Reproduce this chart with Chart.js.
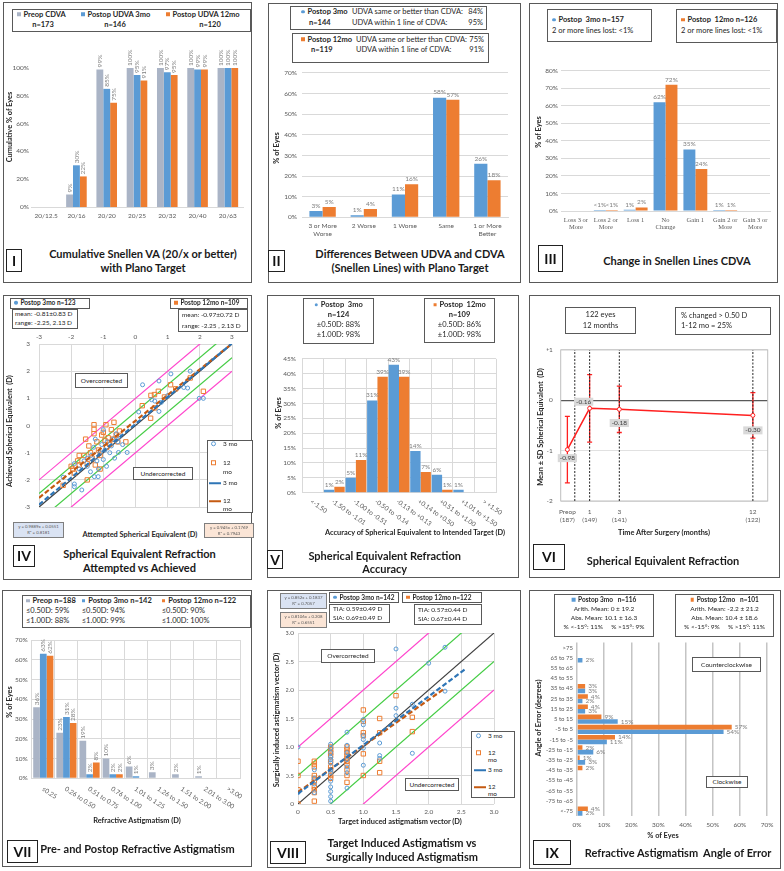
<!DOCTYPE html>
<html>
<head>
<meta charset="utf-8">
<script src="https://cdn.jsdelivr.net/npm/chart.js@4.4.1/dist/chart.umd.min.js"></script>
<style>
  html, body { margin: 0; padding: 0; background: #fff; }
  body { position: relative; width: 784px; height: 871px; overflow: hidden; font-family: Lato, "Open Sans", sans-serif; }
  canvas { position: absolute; }
  .t { position: absolute; white-space: nowrap; line-height: 1; font-size: 7.5px; color: #262626; }
  .bd { font-weight: bold; }
  .ttl { font-weight: bold; font-size: 11px; color: #1a1a1a; }
  .rom { font-weight: bold; font-size: 14px; color: #111; }
  .ax { font-weight: bold; font-size: 7.4px; color: #262626; }
  .sm { font-size: 6.5px; }
  .eq { font-size: 4.3px; color: #595959; }
</style>
</head>
<body>
<script>
// ---------- data ----------
// I  cumulative Snellen VA
const snellenCats = ['20/12.5', '20/16', '20/20', '20/25', '20/32', '20/40', '20/63'];
const snellenPreop = [0, 9, 99, 100, 100, 100, 100];
const snellen3mo = [0, 30, 85, 95, 97, 99, 100];
const snellen12mo = [0, 22, 75, 91, 95, 99, 100];

// II  UDVA vs CDVA
const diffCats = [['3 or More', 'Worse'], '2 Worse', '1 Worse', 'Same', ['1 or More', 'Better']];
const diff3mo = [3, 1, 11, 58, 26];
const diff12mo = [5, 4, 16, 57, 18];

// III  change in Snellen lines
const lineCats = [['Loss 3 or', 'More'], ['Loss 2 or', 'More'], 'Loss 1', ['No', 'Change'], 'Gain 1', ['Gain 2 or', 'More'], ['Gain 3 or', 'More']];
const lines3mo = [0, 0.6, 0.7, 62, 35, 0.6, 0];
const lines12mo = [0, 0.6, 2, 72, 24, 0.6, 0];
const lineText3mo = ['', '<1%', '1%', '62%', '35%', '1%', ''];
const lineText12mo = ['', '<1%', '2%', '72%', '24%', '1%', ''];

// IV  attempted vs achieved SE
const se3moPts = [[-2.25,-1.9],[-1.9,-2.15],[-1.9,-2.25],[-1.9,-1.4],[-1.75,-1.6],[-1.67,-2.37],[-1.6,-1.3],[-1.5,-1.5],[-1.5,-1.2],[-1.4,-1.7],[-1.38,-1.1],[-1.3,-0.8],[-1.28,-1.88],[-1.25,-0.5],[-1.2,-1.3],[-1.16,-1.88],[-1.15,-1.6],[-1.1,-1.0],[-1.05,-0.7],[-1.0,-1.25],[-1.0,-0.15],[-0.95,-0.9],[-0.9,-1.5],[-0.88,-0.6],[-0.8,-1.0],[-0.75,-0.75],[-0.7,-0.5],[-0.65,-1.2],[-0.6,-0.3],[-0.55,-0.6],[-0.53,-0.99],[-0.5,-0.4],[-0.4,-0.7],[-0.26,-0.99],[0.1,0.5],[0.22,1.5],[0.5,0.95],[0.6,0.9],[0.73,0.52],[0.73,1.64],[0.8,0.85],[1.0,1.1],[1.1,1.9],[1.5,1.4],[1.62,1.38],[1.7,2.0],[1.98,1.0],[2.11,1.0]];
const se12moPts = [[-2.25,-2.2],[-2.0,-1.5],[-1.95,-1.6],[-1.9,-1.75],[-1.8,-1.3],[-1.75,-1.45],[-1.75,-1.1],[-1.6,-1.1],[-1.55,-0.5],[-1.5,-1.4],[-1.5,-2.0],[-1.45,-0.75],[-1.4,-1.0],[-1.35,-1.2],[-1.29,0.03],[-1.29,-0.14],[-1.29,-0.3],[-1.25,-1.45],[-1.2,-0.6],[-1.15,-0.9],[-1.1,-1.1],[-1.1,-1.6],[-1.05,-0.35],[-1.0,-0.25],[-0.95,-0.55],[-0.92,0.03],[-0.9,-0.8],[-0.85,-0.45],[-0.8,-0.7],[-0.75,-0.15],[-0.7,-0.5],[-0.67,0.12],[-0.6,-0.35],[-0.55,-0.6],[-0.5,-0.2],[-0.3,-0.6],[0.21,0.73],[0.47,0.27],[0.48,1.11],[0.59,1.14],[0.6,0.65],[0.71,1.26],[0.9,1.05],[1.09,1.5],[1.25,1.35],[1.7,1.75],[2.11,1.26]];
const seTrend3mo = [0.9889, 0.0551];
const seTrend12mo = [0.945, 0.1769];

// V  SE accuracy
const accCats = ['<-1.50', '-1.50 to -1.01', '-1.00 to -0.51', '-0.50 to -0.14', '-0.13 to +0.13', '+0.14 to +0.50', '+0.51 to +1.00', '+1.01 to +1.50', '> +1.50'];
const acc3mo = [0, 1, 5, 31, 43, 14, 6, 1, 0];
const acc12mo = [0, 2, 11, 39, 39, 7, 1, 0, 0];

// VI  SE over time
const seMonths = [-0.5, 1, 3, 12];
const seMean = [-0.98, -0.16, -0.18, -0.30];
const seSD = [0.66, 0.67, 0.46, 0.45];
const seTickLabels = [['Preop', '(187)'], ['1', '(149)'], ['3', '(141)'], ['12', '(122)']];
const seDividers = [0, 1, 3, 12];

// VII  refractive astigmatism
const astCats = ['≤0.25', '0.26 to 0.50', '0.51 to 0.75', '0.76 to 1.00', '1.01 to 1.25', '1.26 to 1.50', '1.51 to 2.00', '2.01 to 3.00', '>3.00'];
const astPreop = [36, 23, 19, 10, 6, 3, 2, 1, 0];
const ast3mo = [63, 31, 2, 2, 1, 0, 0, 0, 0];
const ast12mo = [62, 28, 8, 2, 0, 0, 0, 0, 0];

// VIII  TIA vs SIA
const sia3moPts = [[0,1.0],[0,0.2],[0.25,0.6],[0.25,0.45],[0.25,0.35],[0.25,0.2],[0.5,1.05],[0.5,0.98],[0.5,0.9],[0.5,0.82],[0.5,0.78],[0.5,0.72],[0.5,0.6],[0.5,0.55],[0.5,0.4],[0.5,0.3],[0.5,0.22],[0.5,0.13],[0.5,0.05],[0.75,1.26],[0.75,1.03],[0.75,0.9],[0.75,0.78],[0.75,0.65],[0.75,0.55],[0.75,0.28],[1,1.48],[1,1.39],[1,1.2],[1,1.13],[1,0.98],[1,0.68],[1.25,1.07],[1.25,0.85],[1.25,0.8],[1.5,2.72],[1.5,1.68],[1.5,1.55],[1.75,1.75],[1.75,0.89],[2,2.47],[2.25,2.75],[2.25,1.98]];
const sia12moPts = [[0,0.75],[0,0.5],[0,0.25],[0,0],[0.25,0.75],[0.25,0.7],[0.25,0.65],[0.25,0.5],[0.25,0.45],[0.25,0.4],[0.25,0.3],[0.25,0.25],[0.25,0.2],[0.25,0.05],[0.5,1.0],[0.5,0.95],[0.5,0.9],[0.5,0.85],[0.5,0.75],[0.5,0.65],[0.5,0.6],[0.5,0.5],[0.5,0.45],[0.75,1.0],[0.75,0.95],[0.75,0.9],[0.75,0.85],[0.75,0.8],[0.75,0.75],[0.75,0.7],[0.75,0.6],[0.75,0.5],[0.75,0.38],[1,1.65],[1,1.45],[1,1.25],[1,1.2],[1,0.88],[1,0.5],[1.25,1.5],[1.25,1.25],[1.25,0.75],[1.25,0.55],[1.5,1.9],[1.75,1.52],[1.75,1.27]];
const siaTrend3mo = [0.852, 0.1837, 2.55];
const siaTrend12mo = [0.8106, 0.208, 2.25];

// IX  angle of error
const angCats = ['>75', '65 to 75', '55 to 65', '45 to 55', '35 to 45', '25 to 35', '15 to 25', '5 to 15', '-5 to 5', '-15 to -5', '-25 to -15', '-35 to -25', '-45 to -35', '-55 to -45', '-65 to -55', '-75 to -65', '<-75'];
const ang3mo = [0, 2, 0, 0, 3, 2, 3, 15, 54, 11, 6, 3, 0, 0, 0, 0, 2];
const ang12mo = [0, 0, 0, 0, 3, 4, 4, 9, 57, 14, 2, 1, 2, 0, 0, 0, 4];

// ---------- helpers ----------
const BLUE = '#5b9bd5', ORANGE = '#ed7d31', GRAY = '#aab4c6';
const GRID = '#d9d9d9', TICKC = '#595959';
const TICK = { family: 'Lato', size: 6.5 };

function bx(x1, y1, x2, y2, style) {
  const d = document.createElement('div');
  d.style.cssText = `position:absolute;left:${x1}px;top:${y1}px;width:${x2 - x1}px;height:${y2 - y1}px;box-sizing:border-box;border:1.2px solid #595959;background:#fff;` + (style || '');
  document.body.appendChild(d);
}
function tx(x, y, html, cls, align, rot) {
  const d = document.createElement('div');
  d.className = 't ' + (cls || '');
  d.innerHTML = html;
  d.style.left = x + 'px';
  d.style.top = y + 'px';
  const h = align === 'c' || rot ? '-50%' : align === 'r' ? '-100%' : '0';
  d.style.transform = `translate(${h},-50%)` + (rot ? ' rotate(-90deg)' : '');
  document.body.appendChild(d);
}
function mk(c, round) {
  return `<span style="display:inline-block;width:3.5px;height:3.5px;background:${c};${round ? 'border-radius:50%;' : ''}vertical-align:middle;margin:0 3px 1px 0"></span>`;
}
const openMk = (c, round) => `<span style="display:inline-block;width:3px;height:3px;border:1px solid ${c};${round ? 'border-radius:50%;' : ''}"></span>`;
const dashMk = c => `<span style="display:inline-block;width:12px;border-top:2px dashed ${c};vertical-align:middle"></span>`;

// canvas placed so that the chart area lands on [L,T,R,B]
function mount(area, yW, xH, topH, pad) {
  const [L, Tp, R, Bt] = area;
  const p = pad || { l: 6, t: 8, r: 14, b: 6 };
  const left = Math.round(L - yW - p.l), top = Math.round(Tp - (topH || 0) - p.t);
  const w = Math.round(R + p.r) - left, h = Math.round(Bt + xH + p.b) - top;
  const c = document.createElement('canvas');
  c.width = w; c.height = h;
  c.style.left = left + 'px'; c.style.top = top + 'px';
  document.body.appendChild(c);
  return { ctx: c.getContext('2d'), padding: { left: L - yW - left, top: Tp - (topH || 0) - top, right: left + w - R, bottom: top + h - Bt - xH } };
}
const fit = (prop, v) => s => { s[prop] = v; };
const xy = pts => pts.map(([x, y]) => ({ x, y }));
const seg = (m, b, x0, x1) => [{ x: x0, y: m * x0 + b }, { x: x1, y: m * x1 + b }];
function opts(pad, scales, plugins, extra) {
  return Object.assign({
    responsive: false, animation: false, devicePixelRatio: 1,
    layout: { padding: pad }, scales,
    plugins: Object.assign({ legend: { display: false }, tooltip: { enabled: false } }, plugins || {})
  }, extra || {});
}

// ---------- plugins ----------
const barLabels = {
  id: 'barLabels',
  afterDatasetsDraw(chart, args, o) {
    if (!o.mode) return;
    const ctx = chart.ctx;
    ctx.save();
    ctx.font = (o.size || 6.5) + 'px Lato';
    ctx.fillStyle = '#7f7f7f';
    chart.data.datasets.forEach((ds, i) => {
      chart.getDatasetMeta(i).data.forEach((el, j) => {
        const v = ds.data[j];
        const t = ds.valueText ? ds.valueText[j] : (v > 0 ? Math.round(v) + '%' : '');
        if (!t) return;
        if (o.mode === 'rot') {
          ctx.save();
          ctx.translate(el.x, el.y - 2);
          ctx.rotate(-Math.PI / 2);
          ctx.textAlign = 'left'; ctx.textBaseline = 'middle';
          ctx.fillText(t, 0, 0);
          ctx.restore();
        } else if (o.mode === 'right') {
          ctx.textAlign = 'left'; ctx.textBaseline = 'middle';
          ctx.fillText(t, el.x + 3, el.y);
        } else {
          ctx.textAlign = 'center'; ctx.textBaseline = 'bottom';
          ctx.fillText(t, el.x, el.y - 2);
        }
      });
    });
    ctx.restore();
  }
};
const slant = {
  id: 'slant',
  afterDraw(chart, args, o) {
    if (!o.angle) return;
    const sc = chart.scales.x, ctx = chart.ctx;
    ctx.save();
    ctx.font = '6.5px Lato';
    ctx.fillStyle = TICKC;
    sc.ticks.forEach((t, i) => {
      ctx.save();
      ctx.translate(sc.getPixelForTick(i) + o.dx, sc.top + o.dy);
      ctx.rotate(o.angle * Math.PI / 180);
      ctx.textAlign = 'left'; ctx.textBaseline = 'middle';
      ctx.fillText(sc.getLabelForValue(t.value), 0, 0);
      ctx.restore();
    });
    ctx.restore();
  }
};
const errBars = {
  id: 'errBars',
  beforeDatasetsDraw(chart, args, o) {
    if (!o.sd) return;
    const ctx = chart.ctx, ys = chart.scales.y, ds = chart.data.datasets[0];
    ctx.save();
    ctx.strokeStyle = '#ff2020'; ctx.lineWidth = 1.3;
    chart.getDatasetMeta(0).data.forEach((pt, i) => {
      const m = ds.data[i].y;
      const a = ys.getPixelForValue(m + o.sd[i]), b = ys.getPixelForValue(m - o.sd[i]);
      ctx.beginPath();
      ctx.moveTo(pt.x, a); ctx.lineTo(pt.x, b);
      ctx.moveTo(pt.x - 2.5, a); ctx.lineTo(pt.x + 2.5, a);
      ctx.moveTo(pt.x - 2.5, b); ctx.lineTo(pt.x + 2.5, b);
      ctx.stroke();
    });
    ctx.restore();
  }
};
const ptLabels = {
  id: 'ptLabels',
  afterDatasetsDraw(chart, args, o) {
    if (!o.offsets) return;
    const ctx = chart.ctx, ds = chart.data.datasets[0];
    ctx.save();
    ctx.font = '6.5px Lato';
    chart.getDatasetMeta(0).data.forEach((pt, i) => {
      const t = ds.data[i].y.toFixed(2);
      const w = ctx.measureText(t).width + 4, h = 8;
      const cx = pt.x + o.offsets[i][0], cy = pt.y + o.offsets[i][1];
      ctx.fillStyle = '#d9d9d9';
      ctx.fillRect(cx - w / 2, cy - h / 2, w, h);
      ctx.fillStyle = '#404040';
      ctx.textAlign = 'center'; ctx.textBaseline = 'middle';
      ctx.fillText(t, cx, cy);
    });
    ctx.restore();
  }
};
const frame = {
  id: 'frame',
  beforeDatasetsDraw(chart, args, o) {
    if (!o.color) return;
    const { left, top, width, height } = chart.chartArea;
    chart.ctx.save();
    chart.ctx.strokeStyle = o.color; chart.ctx.lineWidth = 1;
    chart.ctx.strokeRect(left, top, width, height);
    chart.ctx.restore();
  }
};
Chart.register(barLabels, slant, errBars, ptLabels, frame);

// ---------- panel frames ----------
[[3, 2, 252, 283], [268, 3, 521, 283], [529, 3, 778, 283],
 [3, 295, 252, 580], [267, 295, 519, 578], [529, 295, 780, 578],
 [2, 590, 252, 867], [267, 590, 521, 868], [529, 590, 781, 869]]
  .forEach(r => bx(r[0], r[1], r[2], r[3], 'background:transparent;border:1.5px solid #595959;'));

// ---------- I ----------
const cI = mount([31, 68, 243, 207], 24, 14, 0, { l: 6, t: 22, r: 14, b: 6 });
new Chart(cI.ctx, {
  type: 'bar',
  data: { labels: snellenCats, datasets: [
    { data: snellenPreop, backgroundColor: GRAY },
    { data: snellen3mo, backgroundColor: BLUE },
    { data: snellen12mo, backgroundColor: ORANGE }] },
  options: opts(cI.padding, {
    x: { grid: { display: false, drawTicks: false }, border: { color: GRID }, ticks: { font: TICK, color: TICKC, padding: 5, maxRotation: 0, autoSkip: false }, afterFit: fit('height', 14) },
    y: { min: 0, max: 100, grid: { display: false, drawTicks: false }, border: { display: false }, ticks: { stepSize: 20, font: TICK, color: TICKC, padding: 2, callback: v => v + '%' }, afterFit: fit('width', 24) }
  }, { barLabels: { mode: 'rot' } }, { datasets: { bar: { categoryPercentage: 0.68, barPercentage: 1 } } })
});

// ---------- II ----------
const cII = mount([302, 71.7, 508, 217.3], 22, 22);
new Chart(cII.ctx, {
  type: 'bar',
  data: { labels: diffCats, datasets: [
    { data: diff3mo, backgroundColor: BLUE },
    { data: diff12mo, backgroundColor: ORANGE }] },
  options: opts(cII.padding, {
    x: { grid: { display: false, drawTicks: false }, border: { color: GRID }, ticks: { font: TICK, color: TICKC, padding: 5, maxRotation: 0, autoSkip: false }, afterFit: fit('height', 22) },
    y: { min: 0, max: 70, grid: { color: GRID, drawTicks: false }, border: { display: false }, ticks: { stepSize: 10, font: TICK, color: TICKC, padding: 5, callback: v => v + '%' }, afterFit: fit('width', 22) }
  }, { barLabels: { mode: 'top' } }, { datasets: { bar: { categoryPercentage: 0.64, barPercentage: 1 } } })
});

// ---------- III ----------
const cIII = mount([561, 70.7, 770, 211], 22, 22);
new Chart(cIII.ctx, {
  type: 'bar',
  data: { labels: lineCats, datasets: [
    { data: lines3mo, valueText: lineText3mo, backgroundColor: BLUE },
    { data: lines12mo, valueText: lineText12mo, backgroundColor: ORANGE }] },
  options: opts(cIII.padding, {
    x: { grid: { display: false, drawTicks: false }, border: { color: GRID }, ticks: { font: { family: 'Liberation Serif', size: 6.5 }, color: TICKC, padding: 5, maxRotation: 0, autoSkip: false }, afterFit: fit('height', 22) },
    y: { min: 0, max: 80, grid: { color: GRID, drawTicks: false }, border: { display: false }, ticks: { stepSize: 10, font: TICK, color: TICKC, padding: 3, callback: v => v + '%' }, afterFit: fit('width', 22) }
  }, { barLabels: { mode: 'top' } }, { datasets: { bar: { categoryPercentage: 0.8, barPercentage: 1 } } })
});

// ---------- IV ----------
function refLines(lo, hi) {
  const d = [];
  [[0, '#404040'], [0.5, '#44cc44'], [-0.5, '#44cc44'], [1, '#ff44cc'], [-1, '#ff44cc']].forEach(([k, c]) => {
    d.push({ data: seg(1, k, lo, hi), showLine: true, borderColor: c, borderWidth: 1.2, pointRadius: 0 });
  });
  return d;
}
function scatterSets(p3, p12, t3, t12) {
  return [
    { data: seg(t3[0], t3[1], t3[2], t3[3]), showLine: true, borderColor: '#2e75b6', borderDash: [5, 2.5], borderWidth: 2.2, pointRadius: 0 },
    { data: seg(t12[0], t12[1], t12[2], t12[3]), showLine: true, borderColor: '#c55a11', borderDash: [5, 2.5], borderWidth: 2.2, pointRadius: 0 },
    { data: xy(p3), pointStyle: 'circle', pointRadius: 2, borderColor: BLUE, borderWidth: 1, backgroundColor: 'rgba(0,0,0,0)' },
    { data: xy(p12), pointStyle: 'rect', pointRadius: 3.1, borderColor: ORANGE, borderWidth: 1, backgroundColor: 'rgba(0,0,0,0)' }
  ];
}
const cIV = mount([39, 344, 232, 514], 14, 0, 11);
new Chart(cIV.ctx, {
  type: 'scatter',
  data: { datasets: scatterSets(se3moPts, se12moPts, [...seTrend3mo, -3, 3], [...seTrend12mo, -3, 3]).concat(refLines(-3, 3)) },
  options: opts(cIV.padding, {
    x: { type: 'linear', position: 'top', min: -3, max: 3, grid: { color: GRID, drawTicks: false }, border: { display: false }, ticks: { stepSize: 1, font: TICK, color: TICKC, padding: 3 }, afterFit: fit('height', 11) },
    y: { min: -3, max: 3, grid: { color: GRID, drawTicks: false }, border: { display: false }, ticks: { stepSize: 1, font: TICK, color: TICKC, padding: 9 }, afterFit: fit('width', 14) }
  })
});

// ---------- V ----------
const cV = mount([302, 356.7, 496, 492.7], 20, 40, 0, { l: 6, t: 8, r: 22, b: 6 });
new Chart(cV.ctx, {
  type: 'bar',
  data: { labels: accCats, datasets: [
    { data: acc3mo, backgroundColor: BLUE },
    { data: acc12mo, backgroundColor: ORANGE }] },
  options: opts(cV.padding, {
    x: { grid: { color: GRID, drawTicks: false }, border: { color: GRID }, ticks: { display: false, autoSkip: false }, afterFit: fit('height', 40) },
    y: { min: 0, max: 45, grid: { color: GRID, drawTicks: false }, border: { display: false }, ticks: { stepSize: 5, font: TICK, color: TICKC, padding: 6, callback: v => v + '%' }, afterFit: fit('width', 20) }
  }, { barLabels: { mode: 'top' }, slant: { angle: 35, dx: -2, dy: 8 } }, { datasets: { bar: { categoryPercentage: 0.96, barPercentage: 1 } } })
});

// ---------- VI ----------
const cVI = mount([560.7, 346, 767.7, 501], 14, 22);
new Chart(cVI.ctx, {
  type: 'scatter',
  data: { datasets: [
    { data: seMonths.map((m, i) => ({ x: m, y: seMean[i] })), showLine: true, borderColor: '#ff2020', borderWidth: 1.5, pointRadius: 2, pointBackgroundColor: '#fff', pointBorderColor: '#ff2020', pointBorderWidth: 1 }
  ].concat(seDividers.map(m => ({ data: [{ x: m, y: -2 }, { x: m, y: 1 }], showLine: true, borderColor: '#262626', borderDash: [2, 1.5], borderWidth: 1, pointRadius: 0 }))) },
  options: opts(cVI.padding, {
    x: { type: 'linear', min: -0.95, max: 13, grid: { display: false, drawTicks: false }, border: { display: false },
         afterBuildTicks: s => { s.ticks = seMonths.map(v => ({ value: v })); },
         ticks: { font: TICK, color: TICKC, padding: 7, maxRotation: 0, callback: (v, i) => seTickLabels[i] }, afterFit: fit('height', 22) },
    y: { min: -2, max: 1, border: { display: false },
         grid: { drawTicks: false, color: c => c.tick.value === 0 ? '#595959' : GRID, lineWidth: c => c.tick.value === 0 ? 1.3 : 0.8 },
         ticks: { stepSize: 1, font: TICK, color: TICKC, padding: 8, callback: v => v > 0 ? '+' + v : String(v) }, afterFit: fit('width', 14) }
  }, { errBars: { sd: seSD }, ptLabels: { offsets: [[0, 8.5], [-6, -6.6], [0, 13.7], [0, 15]] }, frame: { color: '#bfbfbf' } })
});

// ---------- VII ----------
const cVII = mount([31.7, 640, 240, 778.3], 20, 36, 0, { l: 6, t: 14, r: 16, b: 6 });
new Chart(cVII.ctx, {
  type: 'bar',
  data: { labels: astCats, datasets: [
    { data: astPreop, backgroundColor: GRAY },
    { data: ast3mo, backgroundColor: BLUE },
    { data: ast12mo, backgroundColor: ORANGE }] },
  options: opts(cVII.padding, {
    x: { grid: { color: GRID, drawTicks: false }, border: { color: GRID }, ticks: { display: false, autoSkip: false }, afterFit: fit('height', 36) },
    y: { min: 0, max: 70, grid: { color: GRID, drawTicks: false }, border: { display: false }, ticks: { stepSize: 10, font: TICK, color: TICKC, padding: 4, callback: v => v + '%' }, afterFit: fit('width', 20) }
  }, { barLabels: { mode: 'rot' }, slant: { angle: 33, dx: -1, dy: 10 } }, { datasets: { bar: { categoryPercentage: 0.87, barPercentage: 1 } } })
});

// ---------- VIII ----------
const cVIII = mount([298, 633, 494, 804], 12, 12);
new Chart(cVIII.ctx, {
  type: 'scatter',
  data: { datasets: scatterSets(sia3moPts, sia12moPts, [siaTrend3mo[0], siaTrend3mo[1], 0, siaTrend3mo[2]], [siaTrend12mo[0], siaTrend12mo[1], 0, siaTrend12mo[2]]).concat(refLines(0, 3)) },
  options: opts(cVIII.padding, {
    x: { type: 'linear', min: 0, max: 3, grid: { color: GRID, drawTicks: false }, border: { display: false }, ticks: { stepSize: 0.5, font: TICK, color: TICKC, padding: 4 }, afterFit: fit('height', 12) },
    y: { min: 0, max: 3, grid: { color: GRID, drawTicks: false }, border: { display: false }, ticks: { stepSize: 0.5, font: TICK, color: TICKC, padding: 4 }, afterFit: fit('width', 12) }
  })
});

// ---------- IX ----------
const cIX = mount([577, 640.8, 767, 816.2], 36, 12, 0, { l: 2, t: 6, r: 12, b: 6 });
new Chart(cIX.ctx, {
  type: 'bar',
  data: { labels: angCats, datasets: [
    { data: ang12mo, backgroundColor: ORANGE },
    { data: ang3mo, backgroundColor: BLUE }] },
  options: opts(cIX.padding, {
    x: { min: 0, max: 70, grid: { color: '#c4c4c4', lineWidth: 1.5, drawTicks: false }, border: { display: false }, ticks: { stepSize: 10, font: TICK, color: TICKC, padding: 5, callback: v => v + '%' }, afterFit: fit('height', 12) },
    y: { grid: { display: false, drawTicks: false }, border: { display: false }, ticks: { font: { family: 'Lato', size: 6 }, color: TICKC, padding: 4, autoSkip: false }, afterFit: fit('width', 36) }
  }, { barLabels: { mode: 'right' } }, { indexAxis: 'y', datasets: { bar: { categoryPercentage: 0.9, barPercentage: 1 } } })
});

// ---------- overlays: I ----------
bx(12, 9, 251, 32);
tx(17, 14.5, mk(GRAY) + 'Preop CDVA', 'bd');
tx(43, 24.5, 'n=173', 'bd', 'c');
tx(81, 14.5, mk(BLUE) + 'Postop UDVA 3mo', 'bd');
tx(115, 24.5, 'n=146', 'bd', 'c');
tx(166, 14.5, mk(ORANGE) + 'Postop UDVA 12mo', 'bd');
tx(210, 24.5, 'n=120', 'bd', 'c');
tx(10, 127, 'Cumulative % of Eyes', 'ax', 'c', true);
tx(143, 253, 'Cumulative Snellen VA (20/x or better)', 'ttl', 'c');
tx(143, 267, 'with Plano Target', 'ttl', 'c');
bx(6, 249, 22, 272, 'border:1.5px solid #222;'); tx(14, 260.5, 'I', 'rom', 'c');

// ---------- II ----------
bx(290, 6, 487, 30); bx(292, 33, 489, 63);
tx(301, 12, mk(BLUE, 1) + '<b>Postop 3mo</b>');
tx(352, 12, 'UDVA same or better than CDVA:'); tx(483, 12, '84%', '', 'r');
tx(309, 22.5, '<b>n=144</b>');
tx(352, 22.5, 'UDVA within 1 line of CDVA:'); tx(483, 22.5, '95%', '', 'r');
tx(301, 39.5, mk(ORANGE) + '<b>Postop 12mo</b>');
tx(356, 39.5, 'UDVA same or better than CDVA:'); tx(484, 39.5, '75%', '', 'r');
tx(311, 49.5, '<b>n=119</b>');
tx(356, 49.5, 'UDVA within 1 line of CDVA:'); tx(484, 49.5, '91%', '', 'r');
tx(277, 148, '% of Eyes', 'ax', 'c', true);
tx(410, 253, 'Differences Between UDVA and CDVA', 'ttl', 'c');
tx(410, 267, '(Snellen Lines) with Plano Target', 'ttl', 'c');
bx(268, 250, 285, 272, 'border:1.5px solid #222;'); tx(276.5, 261, 'II', 'rom', 'c');

// ---------- III ----------
bx(547, 9, 652, 42);
tx(552, 20, mk(BLUE, 1) + '<b>Postop&nbsp; 3mo n=157</b>');
tx(552, 31, '2 or more lines lost: &lt;1%');
bx(676, 9, 777, 43);
tx(681, 20, mk(ORANGE) + '<b>Postop&nbsp; 12mo n=126</b>');
tx(681, 31, '2 or more lines lost: &lt;1%');
tx(539.3, 132, '% of Eyes', 'ax', 'c', true);
tx(677, 260, 'Change in Snellen Lines CDVA', 'ttl', 'c');
bx(538, 245, 563, 272, 'border:1.5px solid #222;'); tx(550.5, 258.5, 'III', 'rom', 'c');

// ---------- IV ----------
bx(10, 298, 90, 308.5); tx(14, 303.3, mk(BLUE, 1) + '<b>Postop 3mo n=123</b>', 'sm');
bx(12, 309, 78, 328.5); tx(15, 314, 'mean: -0.81±0.83 D', 'sm'); tx(15, 323, 'range: -2.25, 2.13 D', 'sm');
bx(170, 298, 248, 308.5); tx(174, 303.3, mk(ORANGE) + '<b>Postop 12mo n=109</b>', 'sm');
bx(178, 309, 248, 332); tx(182, 315, 'mean: -0.97±0.72 D', 'sm'); tx(182, 325.5, 'range: -2.25 , 2.13 D', 'sm');
bx(75, 373, 128, 388); tx(101.5, 380.5, 'Overcorrected', 'sm', 'c');
bx(133, 467, 193, 480); tx(163, 473.5, 'Undercorrected', 'sm', 'c');
bx(207, 440, 253, 513);
tx(211, 444.3, openMk(BLUE, 1)); tx(223, 444.3, '3 mo', 'sm');
tx(211, 463.3, openMk(ORANGE)); tx(223, 463.3, '12', 'sm'); tx(223, 471.7, 'mo', 'sm');
tx(209, 482.7, dashMk('#2e75b6')); tx(223, 482.7, '3 mo', 'sm');
tx(209, 500.7, dashMk('#c55a11')); tx(223, 500.7, '12', 'sm'); tx(223, 508.7, 'mo', 'sm');
bx(13, 522, 64, 538, 'background:#dae3f3;border-color:#7f7f7f;');
tx(38.5, 527, 'y = 0.9889x + 0.0551', 'eq', 'c'); tx(38.5, 533, 'R² = 0.8181', 'eq', 'c');
bx(204, 523, 254, 538, 'background:#fbe5d6;border-color:#7f7f7f;');
tx(229, 528, 'y = 0.945x + 0.1769', 'eq', 'c'); tx(229, 534, 'R² = 0.7943', 'eq', 'c');
tx(140, 535, 'Attempted Spherical Equivalent (D)', 'ax', 'c');
tx(10, 431, 'Achieved Spherical Equivalent&nbsp; (D)', 'ax', 'c', true);
tx(139.5, 553, 'Spherical Equivalent Refraction', 'ttl', 'c');
tx(139.5, 567, 'Attempted vs Achieved', 'ttl', 'c');
bx(13, 545, 35, 567, 'border:1.5px solid #222;'); tx(24, 556, 'IV', 'rom', 'c');

// ---------- V ----------
bx(303, 298, 374, 344);
tx(338.5, 305, mk(BLUE, 1) + '<b>Postop&nbsp; 3mo</b>', '', 'c'); tx(338.5, 315, '<b>n=124</b>', '', 'c');
tx(338.5, 325, '±0.50D: 88%', '', 'c'); tx(338.5, 335, '±1.00D: 98%', '', 'c');
bx(424, 298, 495, 343);
tx(459.5, 305, mk(ORANGE) + '<b>Postop&nbsp; 12mo</b>', '', 'c'); tx(459.5, 315, '<b>n=109</b>', '', 'c');
tx(459.5, 325, '±0.50D: 86%', '', 'c'); tx(459.5, 335, '±1.00D: 98%', '', 'c');
tx(415, 533, 'Accuracy of Spherical Equivalent to Intended Target (D)', 'ax', 'c');
tx(279.3, 413, '% of Eyes', 'ax', 'c', true);
tx(384.7, 555, 'Spherical Equivalent Refraction', 'ttl', 'c');
tx(384.7, 568.3, 'Accuracy', 'ttl', 'c');
bx(267, 550, 283, 569, 'border:1.5px solid #222;'); tx(275, 559.5, 'V', 'rom', 'c');

// ---------- VI ----------
bx(565, 307, 636, 334); tx(600.5, 315, '122 eyes', '', 'c'); tx(600.5, 325.7, '12 months', '', 'c');
bx(675, 307, 771, 335); tx(681, 316, '% changed &gt; 0.50 D'); tx(681, 326, '1-12 mo = 25%');
tx(664, 533, 'Time After Surgery (months)', 'ax', 'c');
tx(541, 427, 'Mean ± SD Spherical Equivalent&nbsp; (D)', 'ax', 'c', true);
tx(663, 560, 'Spherical Equivalent Refraction', 'ttl', 'c');
bx(533, 544, 565, 570, 'border:1.5px solid #222;'); tx(549, 557, 'VI', 'rom', 'c');

// ---------- VII ----------
bx(22, 595, 251, 628);
tx(26, 601, mk(GRAY) + '<b>Preop n=188</b>'); tx(26, 611, '≤0.50D: 59%'); tx(26, 621, '≤1.00D: 88%');
tx(81.7, 601, mk(BLUE) + '<b>Postop 3mo n=142</b>'); tx(81.7, 611, '≤0.50D: 94%'); tx(81.7, 621, '≤1.00D: 99%');
tx(161.7, 601, mk(ORANGE) + '<b>Postop 12mo n=122</b>'); tx(161.7, 611, '≤0.50D: 90%'); tx(161.7, 621, '≤1.00D: 100%');
tx(137, 821, 'Refractive Astigmatism (D)', 'ax', 'c');
tx(10, 702, '% of Eyes', 'ax', 'c', true);
tx(137.5, 848, 'Pre- and Postop Refractive Astigmatism', 'ttl', 'c');
bx(7, 840, 38, 863, 'border:1.5px solid #222;'); tx(22.5, 851.5, 'VII', 'rom', 'c');

// ---------- VIII ----------
bx(280, 593, 327, 609, 'background:#dae3f3;border-color:#7f7f7f;');
tx(303.5, 598, 'y = 0.852x + 0.1837', 'eq', 'c'); tx(303.5, 604, 'R² = 0.7057', 'eq', 'c');
bx(280, 612, 327, 628, 'background:#fbe5d6;border-color:#7f7f7f;');
tx(303.5, 617, 'y = 0.8106x + 0.208', 'eq', 'c'); tx(303.5, 623, 'R² = 0.6551', 'eq', 'c');
bx(329, 592, 399, 603); tx(333, 597.5, mk(BLUE, 1) + '<b>Postop 3mo n=142</b>', 'sm');
bx(329, 604, 390, 623); tx(333, 609, 'TIA: 0.59±0.49 D', 'sm'); tx(333, 618, 'SIA: 0.69±0.49 D', 'sm');
bx(402, 592, 482, 603); tx(406, 597.5, mk(ORANGE) + '<b>Postop 12mo n=122</b>', 'sm');
bx(414, 604, 482, 625); tx(418, 610, 'TIA: 0.57±0.44 D', 'sm'); tx(418, 619, 'SIA: 0.67±0.44 D', 'sm');
bx(321, 649, 375, 663); tx(348, 656, 'Overcorrected', 'sm', 'c');
bx(405, 778, 459, 791); tx(432, 784.5, 'Undercorrected', 'sm', 'c');
bx(471, 731, 515, 798);
tx(476, 735.5, openMk(BLUE, 1)); tx(488, 735.5, '3 mo', 'sm');
tx(476, 752.5, openMk(ORANGE)); tx(488, 752.5, '12', 'sm'); tx(488, 760, 'mo', 'sm');
tx(474, 770, dashMk('#2e75b6')); tx(488, 770, '3 mo', 'sm');
tx(474, 786.5, dashMk('#c55a11')); tx(488, 786.5, '12', 'sm'); tx(488, 794, 'mo', 'sm');
tx(400, 822, 'Target induced astigmatism vector (D)', 'ax', 'c');
tx(277, 720, 'Surgically induced astigmatism vector (D)', 'ax', 'c', true);
tx(402, 842, 'Target Induced Astigmatism vs', 'ttl', 'c');
tx(402, 856, 'Surgically Induced Astigmatism', 'ttl', 'c');
bx(270, 841, 306, 864, 'border:1.5px solid #222;'); tx(288, 852.5, 'VIII', 'rom', 'c');

// ---------- IX ----------
bx(554, 594, 654, 637);
tx(604, 600, mk(BLUE) + '<b>Postop 3mo&nbsp;&nbsp; n=116</b>', 'sm', 'c');
tx(604, 609, 'Arith. Mean: 0 ± 19.2', 'sm', 'c');
tx(604, 618.3, 'Abs. Mean: 10.1 ± 16.3', 'sm', 'c');
tx(604, 627.3, '% &lt;-15°: 11%&nbsp;&nbsp;&nbsp;&nbsp; % &gt;15°: 9%', 'sm', 'c');
bx(675, 594, 774, 637);
tx(724.5, 600, mk(ORANGE) + '<b>Postop 12mo&nbsp;&nbsp; n=101</b>', 'sm', 'c');
tx(724.5, 609, 'Arith. Mean: -2.2 ± 21.2', 'sm', 'c');
tx(724.5, 618.3, 'Abs. Mean: 10.4 ± 18.6', 'sm', 'c');
tx(724.5, 627.3, '% &lt;-15°: 9%&nbsp;&nbsp;&nbsp;&nbsp; % &gt;15°: 11%', 'sm', 'c');
bx(692, 657, 761, 672); tx(726.5, 664.5, 'Counterclockwise', 'sm', 'c');
bx(706, 776, 748, 788); tx(727, 782, 'Clockwise', 'sm', 'c');
tx(663, 836, '% of Eyes', 'ax', 'c');
tx(539.3, 718, 'Angle of Error (degrees)', 'ax', 'c', true);
tx(678, 852, 'Refractive Astigmatism&nbsp; Angle of Error', 'ttl', 'c');
bx(533, 840, 571, 865, 'border:1.5px solid #222;'); tx(552, 852.5, 'IX', 'rom', 'c');
</script>
</body>
</html>
